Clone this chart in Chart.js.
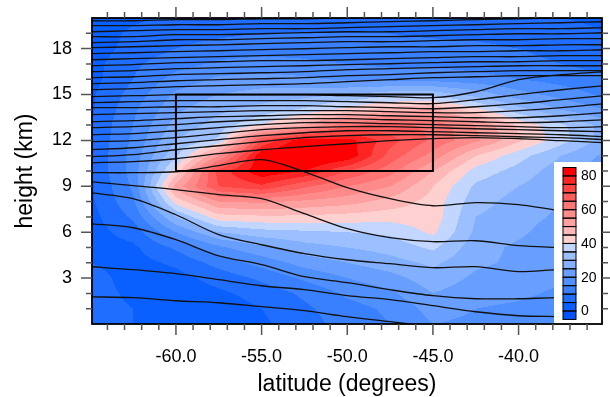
<!DOCTYPE html>
<html lang="en">
<head>
<meta charset="UTF-8">
<title>Jet cross-section</title>
<script src="https://cdn.jsdelivr.net/npm/chart.js@4"></script>
<style>
  html, body { margin: 0; padding: 0; background: #fff; }
</style>
</head>
<body>
<canvas id="chart" width="610" height="397"></canvas>
<script>
// shaded field (rows top to bottom)
const gridLats = [-65, -62.5, -60, -57.5, -55, -52.5, -50, -47.5, -45, -42.5, -40, -37.5, -35];
const gridHeights = [20, 19, 18, 17, 16, 15, 14, 13, 12, 11, 10, 9, 8, 7, 6, 5, 4, 3, 2, 1, 0];
const fieldRows = [
  [2, 4, 6, 7, 8, 8, 8, 8, 7, 7, 6, 5, 4],
  [2, 6, 8, 9, 10, 10, 10, 10, 9, 9, 8, 7, 5],
  [2, 7, 10, 12, 13, 13, 12, 12, 12, 11, 10, 8, 6],
  [3, 9, 13, 16, 17, 16, 15, 14, 14, 13, 12, 10, 8],
  [3, 10, 17, 21, 22, 21, 19, 18, 18, 17, 15, 13, 11],
  [4, 12, 21, 25, 27, 28, 30, 33, 33, 28, 22, 18, 14],
  [4, 14, 24, 29, 32, 36, 42, 48, 50, 42, 32, 25, 20],
  [5, 15, 27, 32, 40, 50, 64, 66, 64, 55, 44, 36, 28],
  [5, 16, 30, 36, 70, 84, 82, 72, 64, 56, 46, 37, 28],
  [5, 17, 34, 55, 84, 88, 84, 68, 58, 45, 37, 30, 24],
  [5, 17, 42, 72, 84, 80, 70, 62, 50, 38, 33, 27, 22],
  [4, 16, 52, 70, 74, 66, 60, 55, 45, 34, 30, 26, 21],
  [4, 14, 42, 55, 56, 54, 52, 48, 43, 32, 28, 25, 20],
  [3, 11, 30, 43, 44, 44, 43, 42, 43, 30, 27, 24, 20],
  [3, 7, 20, 30, 33, 34, 35, 36, 41, 29, 26, 22, 19],
  [3, 4, 11, 19, 24, 28, 30, 32, 36, 27, 24, 21, 18],
  [5, 3, 6, 12, 17, 22, 25, 28, 31, 26, 24, 22, 20],
  [7, 3, 3, 7, 11, 16, 20, 23, 28, 24, 22, 21, 19],
  [7, 4, 2, 4, 7, 11, 16, 19, 25, 22, 21, 19, 17],
  [7, 5, 2, 2, 5, 9, 13, 16, 22, 20, 19, 18, 16],
  [7, 5, 2, 2, 4, 8, 12, 15, 20, 19, 18, 17, 15]
];

// contour levels and fill colours (one more colour than levels)
const levels = [0, 5, 10, 15, 20, 25, 30, 35, 40, 45, 50, 55, 60, 65, 70, 75, 80];
const levelColors = [
  '#0052ff', '#0a60ff', '#1f6eff', '#3880ff', '#4f8fff', '#689fff', '#82b0ff', '#9cc0ff', '#c2d6ff',
  '#ffd0d0', '#ffb8b8', '#ffa0a0', '#ff8a8a', '#ff7474', '#ff5c5c', '#ff4444', '#ff2424', '#ff0000'
];
const colorbarLabels = [0, 20, 40, 60, 80];

const latTicks = [-60, -55, -50, -45, -40];
const heightTicks = [3, 6, 9, 12, 15, 18];

// black isolines, heights (km) at these latitudes
const lineLats = [-65, -62.5, -60, -57.5, -55, -52.5, -50, -47.5, -45, -42.5, -40, -37.5, -35];
const isolines = [
  [19.82, 19.82, 19.89, 19.89, 19.95, 19.95, 20.02, 20.09, 20.15, 20.22, 20.28, 20.35, 20.41],
  [19.5, 19.5, 19.56, 19.56, 19.63, 19.63, 19.69, 19.76, 19.82, 19.89, 19.95, 20.02, 20.09],
  [19.1, 19.17, 19.24, 19.24, 19.3, 19.3, 19.37, 19.43, 19.5, 19.56, 19.63, 19.69, 19.76],
  [18.78, 18.78, 18.91, 18.91, 18.97, 19.04, 19.1, 19.1, 19.17, 19.24, 19.3, 19.3, 19.37],
  [18.39, 18.45, 18.58, 18.58, 18.65, 18.71, 18.78, 18.78, 18.84, 18.91, 18.97, 18.97, 19.04],
  [18.06, 18.12, 18.19, 18.25, 18.32, 18.39, 18.45, 18.45, 18.52, 18.58, 18.58, 18.65, 18.65],
  [17.67, 17.73, 17.8, 17.86, 17.93, 17.99, 18.06, 18.12, 18.12, 18.19, 18.19, 18.25, 18.25],
  [17.27, 17.34, 17.41, 17.47, 17.54, 17.6, 17.67, 17.73, 17.8, 17.8, 17.86, 17.86, 17.93],
  [16.88, 16.95, 17.08, 17.14, 17.21, 17.21, 17.27, 17.34, 17.41, 17.47, 17.47, 17.54, 17.54],
  [16.49, 16.56, 16.69, 16.75, 16.82, 16.88, 16.95, 17.01, 17.08, 17.14, 17.14, 17.21, 17.21],
  [16.1, 16.16, 16.3, 16.36, 16.42, 16.49, 16.62, 16.69, 16.75, 16.82, 16.88, 16.88, 16.88],
  [15.71, 15.77, 15.9, 15.97, 16.03, 16.1, 16.23, 16.3, 16.42, 16.49, 16.56, 16.56, 16.56],
  [15.31, 15.38, 15.51, 15.58, 15.64, 15.71, 15.84, 15.97, 16.1, 16.16, 16.23, 16.23, 16.23],
  [14.86, 14.92, 14.99, 14.99, 14.99, 14.99, 14.92, 14.86, 14.79, 15.18, 15.97, 16.3, 16.49],
  [14.46, 14.53, 14.6, 14.6, 14.6, 14.6, 14.53, 14.46, 14.4, 14.66, 14.99, 15.31, 15.58],
  [14.14, 14.14, 14.2, 14.2, 14.27, 14.27, 14.2, 14.14, 14.07, 14.2, 14.4, 14.66, 14.92],
  [13.68, 13.75, 13.81, 13.88, 13.94, 13.94, 13.94, 13.88, 13.81, 13.81, 13.94, 14.14, 14.4],
  [13.22, 13.29, 13.42, 13.55, 13.61, 13.68, 13.68, 13.61, 13.55, 13.48, 13.48, 13.61, 13.81],
  [12.83, 12.9, 13.03, 13.22, 13.35, 13.42, 13.42, 13.35, 13.29, 13.22, 13.16, 13.22, 13.35],
  [12.37, 12.44, 12.63, 12.83, 13.03, 13.16, 13.16, 13.09, 13.03, 12.96, 12.9, 12.83, 12.9],
  [11.92, 11.98, 12.18, 12.44, 12.7, 12.83, 12.9, 12.9, 12.83, 12.76, 12.7, 12.63, 12.57],
  [11.39, 11.52, 11.78, 12.05, 12.31, 12.5, 12.63, 12.63, 12.57, 12.5, 12.44, 12.37, 12.24],
  [10.93, 11.07, 11.39, 11.65, 11.92, 12.18, 12.31, 12.37, 12.37, 12.31, 12.24, 12.18, 12.05],
  [10.54, 10.61, 10.8, 11.13, 11.39, 11.59, 11.78, 11.98, 12.11, 12.18, 12.11, 11.98, 11.85],
  [9.89, 9.89, 9.95, 10.35, 10.74, 9.95, 8.91, 8.19, 7.73, 7.93, 7.8, 7.41, 7.27],
  [9.3, 9.04, 8.78, 8.45, 8.19, 7.21, 6.23, 5.64, 5.38, 5.44, 5.12, 4.99, 4.86],
  [8.58, 8.19, 7.14, 5.84, 5.18, 4.6, 4.2, 3.94, 3.68, 3.75, 3.42, 3.55, 3.42],
  [6.56, 6.29, 5.51, 4.46, 3.88, 3.09, 2.7, 2.24, 1.85, 1.65, 1.65, 1.72, 1.59],
  [3.75, 3.55, 3.29, 2.9, 2.5, 2.24, 1.85, 1.59, 1.2, 0.8, 0.54, 0.48, 0.41],
  [1.78, 1.72, 1.52, 1.39, 1.13, 0.87, 0.48, 0.15, -0.18]
];

// box
const boxLats = [-60, -60, -45, -45, -60];
const boxHeights = [10, 15, 15, 10, 10];

const FONT = "'Liberation Sans', Arial, Helvetica, sans-serif";

function fracIndex(arr, v) {
  const n = arr.length;
  const asc = arr[n - 1] > arr[0];
  for (let i = 0; i < n - 1; i++) {
    const a = arr[i], b = arr[i + 1];
    if ((asc && v >= a && v <= b) || (!asc && v <= a && v >= b)) return i + (v - a) / (b - a);
  }
  if (asc) return v < arr[0] ? 0 : n - 1;
  return v > arr[0] ? 0 : n - 1;
}

function fieldAt(lat, h) {
  const fi = fracIndex(gridLats, lat);
  const fr = fracIndex(gridHeights, h);
  const i0 = Math.min(Math.floor(fi), gridLats.length - 2), j0 = Math.min(Math.floor(fr), gridHeights.length - 2);
  const tx = fi - i0, ty = fr - j0;
  const r0 = fieldRows[j0], r1 = fieldRows[j0 + 1];
  const top = r0[i0] * (1 - tx) + r0[i0 + 1] * tx;
  const bot = r1[i0] * (1 - tx) + r1[i0 + 1] * tx;
  return top * (1 - ty) + bot * ty;
}

function hexRgb(h) {
  return [parseInt(h.slice(1, 3), 16), parseInt(h.slice(3, 5), 16), parseInt(h.slice(5, 7), 16)];
}

const fieldPlugin = {
  id: 'field',
  beforeDatasetsDraw(chart) {
    const { ctx, chartArea: a, scales: { x, y } } = chart;
    const left = Math.round(a.left), top = Math.round(a.top);
    const w = Math.round(a.right) - left, h = Math.round(a.bottom) - top;
    const off = document.createElement('canvas');
    off.width = w; off.height = h;
    const octx = off.getContext('2d');
    const img = octx.createImageData(w, h);
    const rgb = levelColors.map(hexRgb);
    for (let j = 0; j < h; j++) {
      const hv = y.getValueForPixel(top + j + 0.5);
      for (let i = 0; i < w; i++) {
        const lv = x.getValueForPixel(left + i + 0.5);
        const v = fieldAt(lv, hv);
        let k = 0;
        while (k < levels.length && v >= levels[k]) k++;
        const c = rgb[k], p = (j * w + i) * 4;
        img.data[p] = c[0]; img.data[p + 1] = c[1]; img.data[p + 2] = c[2]; img.data[p + 3] = 255;
      }
    }
    octx.putImageData(img, 0, 0);
    ctx.drawImage(off, left, top);
  }
};

const framePlugin = {
  id: 'frame',
  afterDatasetsDraw(chart) {
    const { ctx, chartArea: a, scales: { x, y } } = chart;
    ctx.save();

    // colour bar
    const bx = 563, bw = 13, bTop = 167.5, bh = 8.44;
    const nBox = levelColors.length;
    ctx.fillStyle = '#fff';
    ctx.fillRect(554, 162, a.right - 554, a.bottom - 162);
    for (let k = 0; k < nBox; k++) {
      const yy = bTop + (nBox - 1 - k) * bh;
      ctx.fillStyle = levelColors[k];
      ctx.fillRect(bx, yy, bw, bh);
    }
    ctx.strokeStyle = '#000';
    ctx.lineWidth = 1;
    for (let k = 0; k < nBox; k++) {
      const yy = bTop + k * bh;
      ctx.strokeRect(bx, yy, bw, bh);
    }
    ctx.fillStyle = '#000';
    ctx.font = '14px ' + FONT;
    ctx.textAlign = 'left';
    ctx.textBaseline = 'middle';
    colorbarLabels.forEach(v => {
      const idx = levels.indexOf(v);
      const yy = bTop + (nBox - 1 - idx) * bh;
      ctx.fillText(String(v), 581, yy + 0.5);
    });

    // frame
    ctx.strokeStyle = '#000';
    ctx.lineWidth = 1.8;
    ctx.strokeRect(a.left, a.top, a.right - a.left, a.bottom - a.top);

    // tick marks, outward on all four sides
    ctx.strokeStyle = '#555';
    ctx.lineWidth = 1.5;
    ctx.beginPath();
    for (let v = Math.ceil(x.min); v <= Math.floor(x.max); v++) {
      const px = x.getPixelForValue(v);
      if (px <= a.left + 1 || px >= a.right - 1) continue;
      const len = v % 5 === 0 ? 11 : 6;
      ctx.moveTo(px, a.bottom); ctx.lineTo(px, a.bottom + len);
      ctx.moveTo(px, a.top); ctx.lineTo(px, a.top - len);
    }
    for (let v = Math.ceil(y.min); v <= Math.floor(y.max); v++) {
      const py = y.getPixelForValue(v);
      if (py <= a.top + 1 || py >= a.bottom - 1) continue;
      const len = heightTicks.includes(v) ? 11 : 6;
      ctx.moveTo(a.left, py); ctx.lineTo(a.left - len, py);
      ctx.moveTo(a.right, py); ctx.lineTo(a.right + len, py);
    }
    ctx.stroke();
    ctx.restore();
  }
};

const datasets = [{
  data: boxLats.map((v, i) => ({ x: v, y: boxHeights[i] })),
  borderColor: '#000',
  borderWidth: 2,
  pointRadius: 0,
  tension: 0
}].concat(isolines.map(line => ({
  data: line.map((v, i) => ({ x: lineLats[i], y: v })),
  borderColor: '#111',
  borderWidth: 1.3,
  pointRadius: 0,
  tension: 0.3
})));

new Chart(document.getElementById('chart'), {
  type: 'line',
  data: { datasets },
  options: {
    responsive: false,
    animation: false,
    events: [],
    layout: { padding: { top: 18, right: 8, left: 0, bottom: 0 } },
    plugins: { legend: { display: false }, tooltip: { enabled: false } },
    scales: {
      x: {
        type: 'linear',
        min: -64.9,
        max: -35.13,
        grid: { display: false, drawTicks: false },
        border: { display: false },
        afterBuildTicks: s => { s.ticks = latTicks.map(v => ({ value: v })); },
        afterFit: s => { s.height = 73; s.paddingLeft = 0; s.paddingRight = 0; },
        ticks: {
          color: '#000',
          font: { family: FONT, size: 18 },
          padding: 22,
          maxRotation: 0,
          autoSkip: false,
          callback: v => Number(v).toFixed(1)
        },
        title: {
          display: true,
          text: 'latitude (degrees)',
          color: '#000',
          font: { family: FONT, size: 23, lineHeight: 1 },
          padding: { top: 0, bottom: 1 }
        }
      },
      y: {
        type: 'linear',
        min: 0,
        max: 20,
        grid: { display: false, drawTicks: false },
        border: { display: false },
        afterBuildTicks: s => { s.ticks = heightTicks.map(v => ({ value: v })); },
        afterFit: s => { s.width = 92; s.paddingTop = 0; s.paddingBottom = 0; },
        ticks: {
          color: '#000',
          font: { family: FONT, size: 18 },
          padding: 20,
          autoSkip: false
        },
        title: {
          display: true,
          text: 'height (km)',
          color: '#000',
          font: { family: FONT, size: 23, lineHeight: 1 },
          padding: { top: 14, bottom: 0 }
        }
      }
    }
  },
  plugins: [fieldPlugin, framePlugin]
});
</script>
</body>
</html>
